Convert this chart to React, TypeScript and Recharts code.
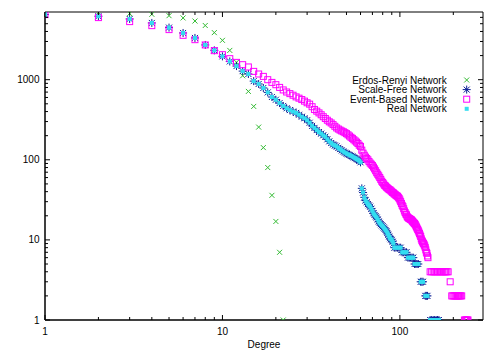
import React from 'react';
import { ScatterChart, Scatter, XAxis, YAxis, ReferenceArea, Legend } from 'recharts';

// ---------- data (degree, number of nodes) ----------
const erdosRenyi: [number, number][] = [
  [2, 6900], [3, 6700], [4, 6550], [5, 6300], [6, 5900], [7, 5400], [8, 4750], [9, 3870],
  [10, 3100], [11, 2320], [12, 1650], [13, 1120], [14, 714], [15, 464], [16, 256], [17, 142],
  [18, 80], [19, 36], [20, 17], [21, 7], [22, 1],
];

const scaleFree: [number, number][] = [
  [1, 6500], [2, 6200], [3, 5730], [4, 5110], [5, 4470], [6, 3830], [7, 3320], [8, 2715],
  [9, 2325], [10, 1955], [11, 1690], [12, 1480], [13, 1280], [14, 1178], [15, 960], [16, 884],
  [17, 788], [18, 694], [19, 608], [20, 562], [21, 511], [22, 470], [23, 440], [24, 418],
  [25, 400], [26, 385], [27, 365], [28, 345], [29, 330], [30, 312], [31, 290], [32, 265],
  [33, 250], [34, 235], [35, 222], [36, 212], [37, 202], [38, 194], [39, 180], [40, 170],
  [41, 162], [42, 155], [43, 151], [44, 147], [45, 141], [46, 136], [47, 131], [48, 127],
  [49, 123], [50, 120], [51, 117], [52, 115], [53, 112], [54, 110], [55, 107], [56, 105],
  [57, 102], [58, 100], [59, 97], [60, 93], [61, 44], [62, 39], [63, 34], [64, 31], [65, 29.5],
  [66, 28], [67, 27], [68, 26], [69, 24.5], [70, 23], [71, 21.5], [72, 20.5], [73, 19.7],
  [74, 19], [75, 18], [76, 17], [77, 16.3], [78, 15.7], [79, 15.2], [80, 14.8], [81, 14.3],
  [82, 13.8], [83, 13.3], [84, 12.8], [85, 12.2], [86, 11.6], [87, 11], [88, 10.5], [89, 10.2],
  [90, 10], [91, 9.5], [92, 9], [93, 8], [95, 8], [97, 8], [99, 8], [101, 8], [103, 7],
  [105, 7], [107, 7], [109, 7], [111, 6], [113, 6], [115, 6], [117, 6], [119, 6], [121, 5],
  [123, 5], [125, 5], [127, 5], [131, 3], [133, 3], [135, 3], [139, 2], [141, 2], [143, 2],
  [148, 1], [151, 1], [154, 1], [157, 1], [160, 1], [163, 1], [166, 1],
];

const eventBased: [number, number][] = [
  [1, 6500], [2, 5960], [3, 5310], [4, 4730], [5, 4220], [6, 3580], [7, 3160], [8, 2715],
  [9, 2304], [10, 2053], [11, 1830], [12, 1645], [13, 1540], [14, 1442], [15, 1270], [16, 1178],
  [17, 1100], [18, 1000], [19, 925], [20, 866], [21, 801], [22, 745], [23, 702], [24, 670],
  [25, 640], [26, 610], [27, 588], [28, 565], [29, 540], [30, 515], [31, 495], [32, 460],
  [33, 425], [34, 405], [35, 385], [36, 365], [37, 345], [38, 328], [39, 312], [40, 298],
  [41, 288], [42, 275], [43, 262], [44, 250], [45, 242], [46, 235], [47, 229], [48, 224],
  [49, 218], [50, 212], [51, 205], [52, 198], [53, 191], [54, 185], [55, 178], [56, 172],
  [57, 166], [58, 160], [59, 152], [60, 147], [61, 132], [62, 121], [63, 114], [64, 108],
  [65, 104], [66, 100], [67, 95], [68, 91], [69, 88], [70, 85], [71, 81], [72, 77], [73, 73],
  [74, 69], [75, 66], [76, 63], [77, 60], [78, 57], [79, 54], [80, 52], [81, 50], [82, 48],
  [83, 47], [84, 45.5], [85, 44.5], [86, 43.5], [87, 42.5], [88, 42], [89, 41], [90, 40],
  [91, 39], [92, 38.5], [93, 37.5], [94, 37], [95, 36], [96, 35.5], [97, 35], [98, 34],
  [99, 33], [100, 31.5], [101, 30], [102, 28.5], [103, 27], [104, 26], [105, 24.5], [106, 23],
  [107, 22], [108, 21], [109, 20.5], [110, 19.5], [111, 19], [112, 18.7], [113, 18.5],
  [114, 18.2], [115, 18], [116, 17.8], [117, 17.4], [118, 17], [119, 16.6], [120, 16.3],
  [121, 16], [122, 15.6], [123, 15], [124, 14.5], [125, 14], [126, 13.5], [127, 13], [128, 12.5],
  [129, 12], [130, 11.5], [131, 11], [132, 10.3], [133, 9.8], [134, 9.5], [135, 9.2], [136, 9],
  [137, 8.7], [138, 8.4], [139, 8], [140, 7.5], [141, 7], [142, 6.8], [143, 6.3], [144, 6],
  [148, 4], [151, 4], [154, 4], [157, 4], [160, 4], [163, 4], [166, 4], [169, 4], [172, 4],
  [175, 4], [178, 4], [181, 4], [184, 4], [187, 4], [192, 3], [196, 2], [199, 2], [202, 2],
  [205, 2], [208, 2], [211, 2], [214, 2], [217, 2], [220, 2], [223, 2], [231, 1], [234, 1],
  [237, 1], [240, 1], [242, 1],
];

const realNetwork: [number, number][] = [
  [1, 6500], [2, 6200], [3, 5730], [4, 5110], [5, 4470], [6, 3830], [7, 3320], [8, 2715],
  [9, 2325], [10, 1955], [11, 1690], [12, 1480], [13, 1280], [14, 1178], [15, 960], [16, 884],
  [17, 788], [18, 694], [19, 608], [20, 562], [21, 511], [22, 470], [23, 440], [24, 418],
  [25, 400], [26, 385], [27, 365], [28, 345], [29, 330], [30, 312], [31, 290], [32, 265],
  [33, 250], [34, 235], [35, 222], [36, 212], [37, 202], [38, 194], [39, 180], [40, 170],
  [41, 162], [42, 155], [43, 151], [44, 147], [45, 141], [46, 136], [47, 131], [48, 127],
  [49, 123], [50, 120], [51, 117], [52, 115], [53, 112], [54, 110], [55, 107], [56, 105],
  [57, 102], [58, 100], [59, 97], [60, 93], [61, 44], [62, 39], [63, 34], [64, 31], [65, 29.5],
  [66, 28], [67, 27], [68, 26], [69, 24.5], [70, 23], [71, 21.5], [72, 20.5], [73, 19.7],
  [74, 19], [75, 18], [76, 17], [77, 16.3], [78, 15.7], [79, 15.2], [80, 14.8], [81, 14.3],
  [82, 13.8], [83, 13.3], [84, 12.8], [85, 12.2], [86, 11.6], [87, 11], [88, 10.5], [89, 10.2],
  [90, 10], [91, 9.5], [92, 9], [93, 8], [95, 8], [97, 8], [99, 8], [101, 8], [103, 7],
  [105, 7], [107, 7], [109, 7], [111, 6], [113, 6], [115, 6], [117, 6], [119, 6], [121, 5],
  [123, 5], [125, 5], [127, 5], [131, 3], [133, 3], [135, 3], [139, 2], [141, 2], [143, 2],
  [148, 1], [151, 1], [154, 1], [157, 1], [160, 1], [163, 1], [166, 1],
];

const seriesNames = ['Erdos-Renyi Network', 'Scale-Free Network', 'Event-Based Network', 'Real Network'];

const xTicks = [1, 2, 3, 4, 5, 6, 7, 8, 9, 10, 20, 30, 40, 50, 60, 70, 80, 90, 100, 200];
const xMajor = [1, 10, 100];
const yTicks = [
  1, 2, 3, 4, 5, 6, 7, 8, 9, 10, 20, 30, 40, 50, 60, 70, 80, 90,
  100, 200, 300, 400, 500, 600, 700, 800, 900, 1000, 2000, 3000, 4000, 5000, 6000,
];
const yMajor = [1, 10, 100, 1000];

// ---------- styling ----------
const FONT = '"Liberation Sans", Arial, sans-serif';
const GREEN = '#33bb33';
const BLUE = '#0b1e95';
const MAGENTA = '#ff00ff';
const CYAN = '#33ddf0';
const PLOT_W = 438;
const PLOT_H = 308;

const toPoints = (arr: [number, number][]) => arr.map(([x, y]) => ({ x, y }));

const CrossMark = ({ cx, cy }: any) => (
  <path d={`M${cx - 2.5},${cy - 2.5}L${cx + 2.5},${cy + 2.5}M${cx - 2.5},${cy + 2.5}L${cx + 2.5},${cy - 2.5}`}
    stroke={GREEN} strokeWidth={1} fill="none" />
);
const StarMark = ({ cx, cy }: any) => (
  <path d={`M${cx - 4},${cy}L${cx + 4},${cy}M${cx},${cy - 4}L${cx},${cy + 4}M${cx - 3},${cy - 3}L${cx + 3},${cy + 3}M${cx - 3},${cy + 3}L${cx + 3},${cy - 3}`}
    stroke={BLUE} strokeWidth={1} fill="none" />
);
const BoxMark = ({ cx, cy }: any) => (
  <rect x={cx - 3} y={cy - 3} width={6} height={6} stroke={MAGENTA} strokeWidth={1} fill="none" />
);
const FilledMark = ({ cx, cy }: any) => (
  <rect x={cx - 2} y={cy - 2} width={4} height={4} fill={CYAN} stroke="none" />
);
const markers = [CrossMark, StarMark, BoxMark, FilledMark];

const XTick = (props: any) => {
  const { x, y, payload } = props;
  const major = xMajor.includes(payload.value);
  const len = major ? 5 : 3;
  return (
    <g>
      <line x1={x} x2={x} y1={y} y2={y - len} stroke="#000" />
      <line x1={x} x2={x} y1={y - PLOT_H} y2={y - PLOT_H + len} stroke="#000" />
      {major && (
        <text x={x} y={y + 14.5} textAnchor="middle" fontSize={10} fontFamily={FONT} fill="#000">
          {payload.value}
        </text>
      )}
    </g>
  );
};

const YTick = (props: any) => {
  const { x, y, payload } = props;
  const major = yMajor.includes(payload.value);
  const len = major ? 5 : 3;
  return (
    <g>
      <line x1={x} x2={x + len} y1={y} y2={y} stroke="#000" />
      <line x1={x + PLOT_W} x2={x + PLOT_W - len} y1={y} y2={y} stroke="#000" />
      {major && (
        <text x={x - 5.5} y={y + 3.5} textAnchor="end" fontSize={10} fontFamily={FONT} fill="#000">
          {payload.value}
        </text>
      )}
    </g>
  );
};

const renderLegend = () => (
  <svg width={180} height={50} style={{ display: 'block' }}>
    {seriesNames.map((name, i) => {
      const cy = 10 + i * 9.6;
      const M = markers[i];
      return (
        <g key={name}>
          <text x={146.7} y={cy + 3.5} textAnchor="end" fontSize={10} fontFamily={FONT} fill="#000">{name}</text>
          <M cx={166.7} cy={cy} />
        </g>
      );
    })}
  </svg>
);

export default function App() {
  const series = [erdosRenyi, scaleFree, eventBased, realNetwork];
  return (
    <div style={{ position: 'absolute', left: 0, top: 0, background: '#fff' }}>
      <ScatterChart width={500} height={350} margin={{ top: 12, right: 17, bottom: 0, left: 0 }}>
        <XAxis
          type="number" dataKey="x" scale="log" domain={[1, 294]} allowDataOverflow
          ticks={xTicks} interval={0} tickSize={0} tickMargin={0} tick={<XTick />}
          axisLine={{ stroke: '#000' }} tickLine={false} height={30}
          label={{ value: 'Degree', position: 'insideBottom', offset: 2, style: { fontSize: 10, fontFamily: FONT, fill: '#000' } }}
        />
        <YAxis
          type="number" dataKey="y" scale="log" domain={[1, 7000]} allowDataOverflow
          ticks={yTicks} interval={0} tickSize={0} tickMargin={0} tick={<YTick />}
          axisLine={{ stroke: '#000' }} tickLine={false} width={45}
        />
        <ReferenceArea x1={1} x2={294} y1={1} y2={7000} fill="none" stroke="#000" strokeWidth={1} ifOverflow="visible" />
        {series.map((s, i) => {
          const M = markers[i];
          return (
            <Scatter key={seriesNames[i]} name={seriesNames[i]} data={toPoints(s)} isAnimationActive={false}
              shape={(p: any) => <M cx={p.cx} cy={p.cy} />} />
          );
        })}
        <Legend layout="vertical" align="center" verticalAlign="middle" content={renderLegend}
          wrapperStyle={{ position: 'absolute', left: 300, top: 70, width: 180, height: 50 }} />
      </ScatterChart>
    </div>
  );
}
